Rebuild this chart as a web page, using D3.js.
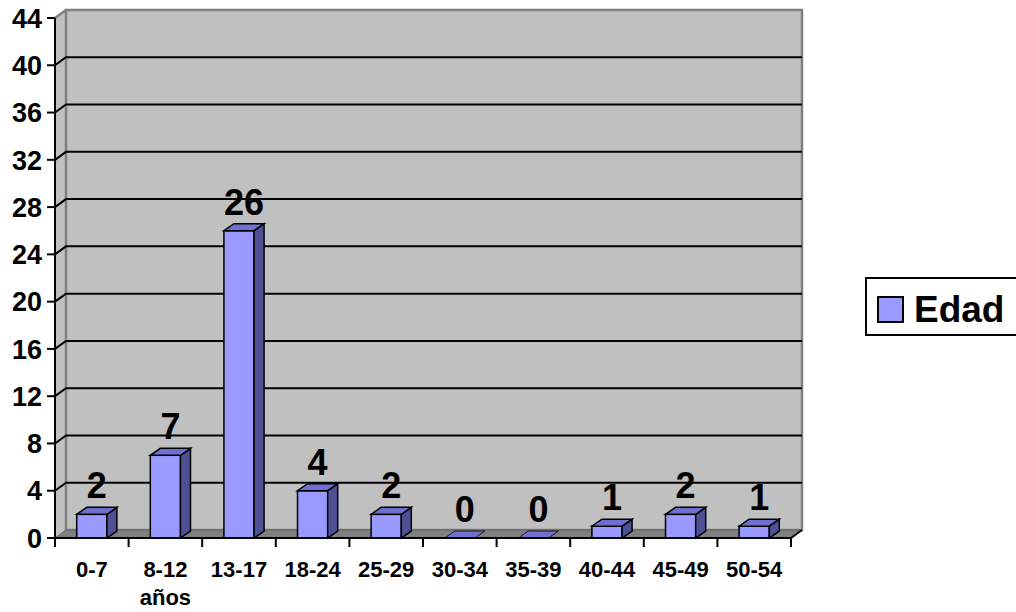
<!DOCTYPE html>
<html>

<head>
  <meta charset="utf-8">
  <title>Edad</title>
  <script src="https://cdn.jsdelivr.net/npm/d3@7"></script>
  <style>
    body { margin: 0; background: #fff; }
    text { font-family: "Liberation Sans", Arial, sans-serif; font-weight: bold; fill: #000; }
  </style>
</head>

<body>
<svg id="mainsvg" width="1016" height="612" style="display: block;"></svg>
<script>
  // data
  const categories = ['0-7', '8-12', '13-17', '18-24', '25-29', '30-34', '35-39', '40-44', '45-49', '50-54'];
  const values = [2, 7, 26, 4, 2, 0, 0, 1, 2, 1];
  const yTicks = [0, 4, 8, 12, 16, 20, 24, 28, 32, 36, 40, 44];
  const seriesName = 'Edad';
  const subLabel = 'años';   // second line under "8-12"

  const svg = d3.select('#mainsvg');

  const plotLeft = 55, plotRight = 791, plotBottom = 538, plotTop = 18;
  const dx = 11, dy = -8;        // depth of the back wall
  const bdx = 10, bdy = -7;      // depth of each bar

  const x = d3.scaleBand().domain(categories).range([plotLeft, plotRight]);
  const y = d3.scaleLinear().domain([0, 44]).range([plotBottom, plotTop]);
  const barW = x.bandwidth() * 0.41;

  const pts = p => p.map(d => d.join(',')).join(' ');

  // side wall, back wall, floor
  svg.append('polygon')
    .attr('points', pts([[plotLeft, y(44)], [plotLeft + dx, y(44) + dy], [plotLeft + dx, y(0) + dy], [plotLeft, y(0)]]))
    .attr('fill', '#c0c0c0');
  svg.append('rect')
    .attr('x', plotLeft + dx).attr('y', y(44) + dy)
    .attr('width', plotRight - plotLeft).attr('height', y(0) - y(44))
    .attr('fill', '#c0c0c0').attr('stroke', '#808080').attr('stroke-width', 2.5);
  svg.append('line')
    .attr('x1', plotLeft).attr('y1', y(44)).attr('x2', plotLeft + dx).attr('y2', y(44) + dy)
    .attr('stroke', '#808080').attr('stroke-width', 2.5);
  svg.append('polygon')
    .attr('points', pts([[plotLeft, y(0)], [plotRight, y(0)], [plotRight + dx, y(0) + dy], [plotLeft + dx, y(0) + dy]]))
    .attr('fill', '#808080').attr('stroke', '#606060').attr('stroke-width', 1);

  // gridlines on back and side walls
  const grid = svg.append('g').attr('stroke', '#000').attr('stroke-width', 2).attr('fill', 'none');
  yTicks.filter(t => t > 0 && t < 44).forEach(t => {
    grid.append('polyline')
      .attr('points', pts([[plotLeft, y(t)], [plotLeft + dx, y(t) + dy], [plotRight + dx, y(t) + dy]]));
  });

  // bars
  const bars = svg.append('g').selectAll('g').data(categories).join('g');
  bars.each(function (c, i) {
    const g = d3.select(this);
    const v = values[i];
    const x0 = x(c) + (x.bandwidth() - barW) / 2, x1 = x0 + barW;
    const yt = y(v), yb = y(0);
    if (v > 0) {
      g.append('rect')
        .attr('x', x0).attr('y', yt).attr('width', barW).attr('height', yb - yt)
        .attr('fill', '#9999ff').attr('stroke', '#000').attr('stroke-width', 1.5);
      g.append('polygon')
        .attr('points', pts([[x1, yt], [x1 + bdx, yt + bdy], [x1 + bdx, yb + bdy], [x1, yb]]))
        .attr('fill', '#4f4f96').attr('stroke', '#000').attr('stroke-width', 1.5);
    }
    g.append('polygon')
      .attr('points', pts([[x0, yt], [x1, yt], [x1 + bdx, yt + bdy], [x0 + bdx, yt + bdy]]))
      .attr('fill', '#7070d0').attr('stroke', '#000').attr('stroke-width', v > 0 ? 1.5 : 0.8);
  });

  // data labels
  svg.append('g').selectAll('text').data(categories).join('text')
    .attr('x', c => x(c) + x.bandwidth() / 2 + 5)
    .attr('y', (c, i) => y(values[i]) - 16)
    .attr('text-anchor', 'middle')
    .style('font-size', '36px')
    .text((c, i) => values[i]);

  // y axis
  svg.append('line')
    .attr('x1', plotLeft).attr('x2', plotLeft).attr('y1', y(44)).attr('y2', y(0))
    .attr('stroke', '#000').attr('stroke-width', 2);
  const yax = svg.append('g').selectAll('g').data(yTicks).join('g')
    .attr('transform', t => `translate(0,${y(t)})`);
  yax.append('line').attr('x1', plotLeft - 8).attr('x2', plotLeft).attr('stroke', '#000').attr('stroke-width', 2);
  yax.append('text')
    .attr('x', plotLeft - 13).attr('dy', '0.36em')
    .attr('text-anchor', 'end')
    .style('font-size', '27px')
    .text(t => t);

  // x axis
  svg.append('line')
    .attr('x1', plotLeft).attr('x2', plotRight).attr('y1', plotBottom).attr('y2', plotBottom)
    .attr('stroke', '#000').attr('stroke-width', 2);
  svg.append('line')
    .attr('x1', plotRight).attr('y1', plotBottom).attr('x2', plotRight + dx).attr('y2', plotBottom + dy)
    .attr('stroke', '#000').attr('stroke-width', 2);
  const edges = categories.map(c => x(c)).concat([plotRight]);
  svg.append('g').selectAll('line').data(edges).join('line')
    .attr('x1', d => d).attr('x2', d => d).attr('y1', plotBottom).attr('y2', plotBottom + 9)
    .attr('stroke', '#000').attr('stroke-width', 2);
  svg.append('g').selectAll('text').data(categories).join('text')
    .attr('x', c => x(c) + x.bandwidth() / 2)
    .attr('y', 577)
    .attr('text-anchor', 'middle')
    .style('font-size', '22px')
    .text(c => c);
  svg.append('text')
    .attr('x', x('8-12') + x.bandwidth() / 2)
    .attr('y', 605)
    .attr('text-anchor', 'middle')
    .style('font-size', '22px')
    .text(subLabel);

  // legend
  svg.append('rect')
    .attr('x', 866).attr('y', 278).attr('width', 170).attr('height', 57)
    .attr('fill', '#fff').attr('stroke', '#000').attr('stroke-width', 2);
  svg.append('rect')
    .attr('x', 878).attr('y', 297).attr('width', 25).attr('height', 25)
    .attr('fill', '#9999ff').attr('stroke', '#000').attr('stroke-width', 2);
  svg.append('text')
    .attr('x', 914).attr('y', 322)
    .style('font-size', '37px')
    .text(seriesName);
</script>
</body>

</html>
